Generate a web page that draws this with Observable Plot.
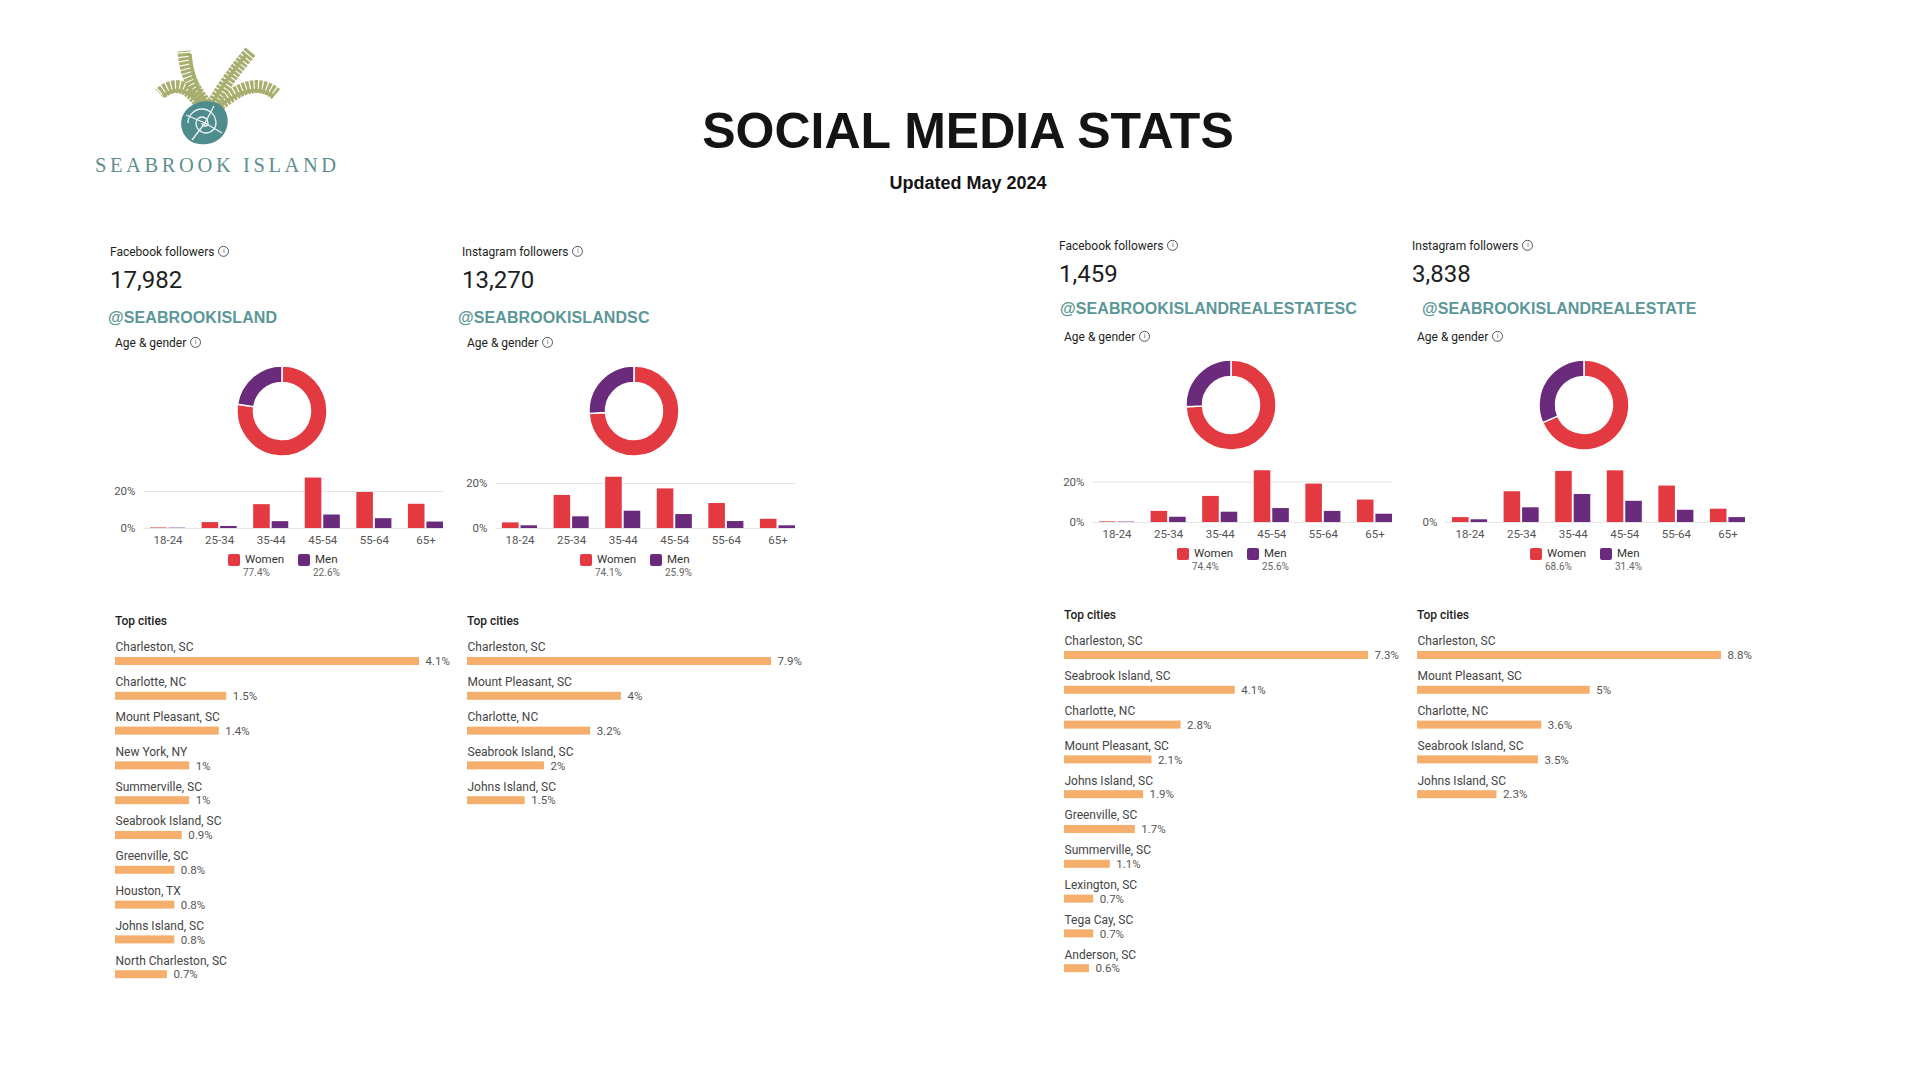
<!DOCTYPE html>
<html><head><meta charset="utf-8">
<script src="https://cdn.jsdelivr.net/npm/d3@7"></script>
<script src="https://cdn.jsdelivr.net/npm/@observablehq/plot@0.6"></script>
<style>
html,body{margin:0;padding:0;background:#fff;}
body{width:1920px;height:1080px;position:relative;overflow:hidden;font-family:Roboto,"Liberation Sans",sans-serif;color:#1c1e21;}
.t{position:absolute;white-space:nowrap;transform:translateY(-50%);line-height:1;}
.info{display:inline-block;width:9px;height:9px;border:1px solid #555;border-radius:50%;font-size:7px;line-height:9px;text-align:center;color:#555;margin-left:4px;vertical-align:middle;position:relative;top:-1px;font-family:"DejaVu Sans",sans-serif;}
.abs{position:absolute;}
.abs svg{overflow:visible;}
</style></head><body>
<script>
// ---------------- DATA ----------------
const ages = ["18-24", "25-34", "35-44", "45-54", "55-64", "65+"];
const platforms = ["Facebook followers", "Instagram followers", "Facebook followers", "Instagram followers"];
const followers = ["17,982", "13,270", "1,459", "3,838"];
const handles = ["@SEABROOKISLAND", "@SEABROOKISLANDSC", "@SEABROOKISLANDREALESTATESC", "@SEABROOKISLANDREALESTATE"];
const womenShare = [77.4, 74.1, 74.4, 68.6];
const menShare = [22.6, 25.9, 25.6, 31.4];

const fbIslandWomen = [0.3, 3.2, 12.9, 27.3, 19.5, 13.1];
const fbIslandMen = [0.2, 1.1, 3.7, 7.3, 5.3, 3.5];
const igIslandWomen = [2.5, 14.7, 22.8, 17.6, 11.1, 4.1];
const igIslandMen = [1.2, 5.2, 7.7, 6.2, 3.1, 1.2];
const fbRealWomen = [0.3, 5.5, 12.9, 25.6, 19.0, 11.1];
const fbRealMen = [0.2, 2.6, 5.1, 6.9, 5.5, 4.1];
const igRealWomen = [1.8, 11.3, 18.8, 19.0, 13.4, 4.9];
const igRealMen = [1.0, 5.4, 10.3, 7.8, 4.5, 1.8];

const fbIslandCities = ["Charleston, SC", "Charlotte, NC", "Mount Pleasant, SC", "New York, NY", "Summerville, SC", "Seabrook Island, SC", "Greenville, SC", "Houston, TX", "Johns Island, SC", "North Charleston, SC"];
const fbIslandCityShare = [4.1, 1.5, 1.4, 1, 1, 0.9, 0.8, 0.8, 0.8, 0.7];
const igIslandCities = ["Charleston, SC", "Mount Pleasant, SC", "Charlotte, NC", "Seabrook Island, SC", "Johns Island, SC"];
const igIslandCityShare = [7.9, 4, 3.2, 2, 1.5];
const fbRealCities = ["Charleston, SC", "Seabrook Island, SC", "Charlotte, NC", "Mount Pleasant, SC", "Johns Island, SC", "Greenville, SC", "Summerville, SC", "Lexington, SC", "Tega Cay, SC", "Anderson, SC"];
const fbRealCityShare = [7.3, 4.1, 2.8, 2.1, 1.9, 1.7, 1.1, 0.7, 0.7, 0.6];
const igRealCities = ["Charleston, SC", "Mount Pleasant, SC", "Charlotte, NC", "Seabrook Island, SC", "Johns Island, SC"];
const igRealCityShare = [8.8, 5, 3.6, 3.5, 2.3];

const title = "SOCIAL MEDIA STATS";
const subtitle = "Updated May 2024";
const brand = "SEABROOK ISLAND";

// ---------------- STYLE / LAYOUT ----------------
const RED = "#e23a40", PURPLE = "#6b2b7c", ORANGE = "#f6ae6d", TEAL = "#5b9798";
const panels = [
  {B: 115, T: 0, hx: 108, hT: 0, yMax: 30.3, grid: true, women: fbIslandWomen, men: fbIslandMen, cities: fbIslandCities, share: fbIslandCityShare},
  {B: 467, T: 0, hx: 458, hT: 0, yMax: 24.9, grid: true, women: igIslandWomen, men: igIslandMen, cities: igIslandCities, share: igIslandCityShare},
  {B: 1064, T: -6, hx: 1060, hT: -9, yMax: 27.7, grid: true, women: fbRealWomen, men: fbRealMen, cities: fbRealCities, share: fbRealCityShare},
  {B: 1417, T: -6, hx: 1422, hT: -9, yMax: 20.6, grid: false, women: igRealWomen, men: igRealMen, cities: igRealCities, share: igRealCityShare}
];

function txt(x, y, html, css) {
  const d = document.createElement("div");
  d.className = "t";
  d.style.left = x + "px";
  d.style.top = y + "px";
  d.innerHTML = html;
  Object.assign(d.style, css || {});
  document.body.appendChild(d);
  return d;
}
function place(node, x, y) {
  const d = document.createElement("div");
  d.className = "abs";
  d.style.left = x + "px";
  d.style.top = y + "px";
  d.appendChild(node);
  document.body.appendChild(d);
}

// Logo
const logo = document.createElementNS("http://www.w3.org/2000/svg", "svg");
logo.setAttribute("width", "360"); logo.setAttribute("height", "200");
logo.style.position = "absolute"; logo.style.left = "0"; logo.style.top = "0";
logo.innerHTML = `
<g fill="none" stroke="#a7ae6e" stroke-linecap="butt">
  <path d="M206 104 Q186 82 184 51" stroke-width="13" stroke-dasharray="3 1.1"/>
  <path d="M208 105 Q192 82 190 54" stroke-width="3.5"/>
  <path d="M213 104 Q228 78 251 51" stroke-width="13" stroke-dasharray="3 1.1"/>
  <path d="M211 105 Q224 82 246 55" stroke-width="3.5"/>
  <path d="M203 108 Q182 74 160 94" stroke-width="13" stroke-dasharray="3 1.1"/>
  <path d="M204 110 Q184 80 163 96" stroke-width="3.5"/>
  <path d="M216 108 Q252 74 276 94" stroke-width="13" stroke-dasharray="3 1.1"/>
  <path d="M215 110 Q250 80 273 96" stroke-width="3.5"/>
</g>
<path d="M217 103 C234 111 231 141 207 144 C186 147 177 128 183 115 C190 102 205 99 217 103 Z" fill="#4f8c8e"/>
<g fill="none" stroke="#fff" stroke-width="1.3" opacity="0.9">
  <path d="M205 123 m-3 0 a3 3 0 1 0 6 0 a6 6 0 1 0 -12 0 a10 10 0 1 0 20 0 a14 14 0 1 0 -28 0"/>
  <path d="M205 123 L214 106 M205 123 L186 115 M205 123 L192 140 M205 123 L222 133"/>
</g>
<text x="95" y="172" fill="#5f8f90" font-family="'Liberation Serif','DejaVu Serif',serif" font-size="20.5" letter-spacing="3.6">${brand}</text>`;
document.body.appendChild(logo);

// Title
txt(968, 131, title, {transform: "translate(-50%,-50%)", fontFamily: "'Liberation Sans',Arial,sans-serif", fontWeight: "700", fontSize: "50px", color: "#141414"});
txt(968, 183, subtitle, {transform: "translate(-50%,-50%)", fontFamily: "'Liberation Sans',Arial,sans-serif", fontWeight: "700", fontSize: "18px", color: "#141414"});

const info = '<span class="info">i</span>';

panels.forEach((p, k) => {
  const B = p.B, T = p.T;
  txt(B - 5, 252 + T, platforms[k] + info, {fontSize: "12px", color: "#1c1e21"});
  txt(B - 5, 280 + T, followers[k], {fontSize: "24px", color: "#1c1e21"});
  txt(p.hx, 318 + p.hT, handles[k], {fontFamily: "'Liberation Sans',Arial,sans-serif", fontWeight: "700", fontSize: "16px", color: TEAL, letterSpacing: "0.1px"});
  txt(B, 343 + T, "Age &amp; gender" + info, {fontSize: "12px", color: "#1c1e21"});

  // Donut
  const shares = [{g: "Women", v: womenShare[k]}, {g: "Men", v: menShare[k]}];
  const donut = Plot.plot({
    width: 100, height: 100, margin: 0,
    x: {domain: [-50, 50], axis: null},
    y: {domain: [-50, 50], axis: null},
    marks: [
      (index, scales) => {
        const g = d3.create("svg:g");
        const cx = scales.x(0), cy = scales.y(0);
        const arcs = d3.pie().sort(null).value(d => d.v)(shares);
        const arc = d3.arc().innerRadius(28.5).outerRadius(45);
        g.selectAll("path").data(arcs).join("path")
          .attr("transform", `translate(${cx},${cy})`)
          .attr("d", arc)
          .attr("fill", d => d.data.g === "Women" ? RED : PURPLE)
          .attr("stroke", "#fff").attr("stroke-width", 1.5);
        return g.node();
      }
    ]
  });
  place(donut, B + 167 - 50, 411 + T - 50);

  // Age bars
  const data = ages.map((a, i) => ({age: a, women: p.women[i], men: p.men[i]}));
  const ticks = p.grid ? [0, 20] : [0];
  const bars = Plot.plot({
    width: 368, height: 86,
    marginLeft: 58, marginRight: 10, marginTop: 10, marginBottom: 20,
    x: {domain: ages, paddingInner: 0.32, paddingOuter: 0.068, align: 1, round: false, axis: null},
    y: {domain: [0, p.yMax], axis: null},
    style: {fontFamily: "Roboto, sans-serif", fontSize: "11.5px", color: "#555", background: "transparent"},
    marks: [
      Plot.ruleY(ticks, {stroke: "#e6e6e6", strokeWidth: 1}),
      Plot.barY(data, {x: "age", y: "women", fill: RED, insetRight: 18.5}),
      Plot.barY(data, {x: "age", y: "men", fill: PURPLE, insetLeft: 18.5}),
      Plot.axisX({tickSize: 0, tickPadding: 7, label: null, fill: "#555"}),
      Plot.axisY(ticks, {tickSize: 0, tickPadding: 8, label: null, tickFormat: d => d + "%", fill: "#555"})
    ]
  });
  place(bars, B - 30, 528 + T - 66);

  // Legend
  const ly = 560 + T;
  const sw = (x, c) => { const d = document.createElement("div"); d.className = "abs"; Object.assign(d.style, {left: x + "px", top: (ly - 6) + "px", width: "12px", height: "12px", background: c, borderRadius: "2px"}); document.body.appendChild(d); };
  sw(B + 113, RED);
  txt(B + 130, ly, "Women", {fontSize: "11.5px", color: "#333"});
  txt(B + 128, ly + 13, womenShare[k] + "%", {fontSize: "10px", color: "#666"});
  sw(B + 183, PURPLE);
  txt(B + 200, ly, "Men", {fontSize: "11.5px", color: "#333"});
  txt(B + 198, ly + 13, menShare[k] + "%", {fontSize: "10px", color: "#666"});

  // Top cities
  txt(B, 621 + T, "Top cities", {fontSize: "12px", fontWeight: "500", color: "#1c1e21"});
  const cdata = p.cities.map((c, i) => ({city: c, v: p.share[i]}));
  const step = 34.8;
  const cities = Plot.plot({
    width: 360, height: cdata.length * step,
    marginLeft: 0, marginRight: 56, marginTop: 0, marginBottom: 0,
    x: {domain: [0, d3.max(p.share)], axis: null},
    y: {domain: p.cities, padding: 0, round: false, axis: null},
    style: {fontFamily: "Roboto, sans-serif", background: "transparent"},
    marks: [
      Plot.barX(cdata, {x: "v", y: "city", fill: ORANGE, insetTop: 18, insetBottom: 8.8}),
      Plot.text(cdata, {x: 0, y: "city", text: "city", textAnchor: "start", dy: -9.4, fill: "#444", fontSize: 12}),
      Plot.text(cdata, {x: "v", y: "city", text: d => d.v + "%", textAnchor: "start", dx: 6, dy: 4.6, fill: "#555", fontSize: 11.5})
    ]
  });
  place(cities, B, 639 + T);
});
</script>
</body></html>
